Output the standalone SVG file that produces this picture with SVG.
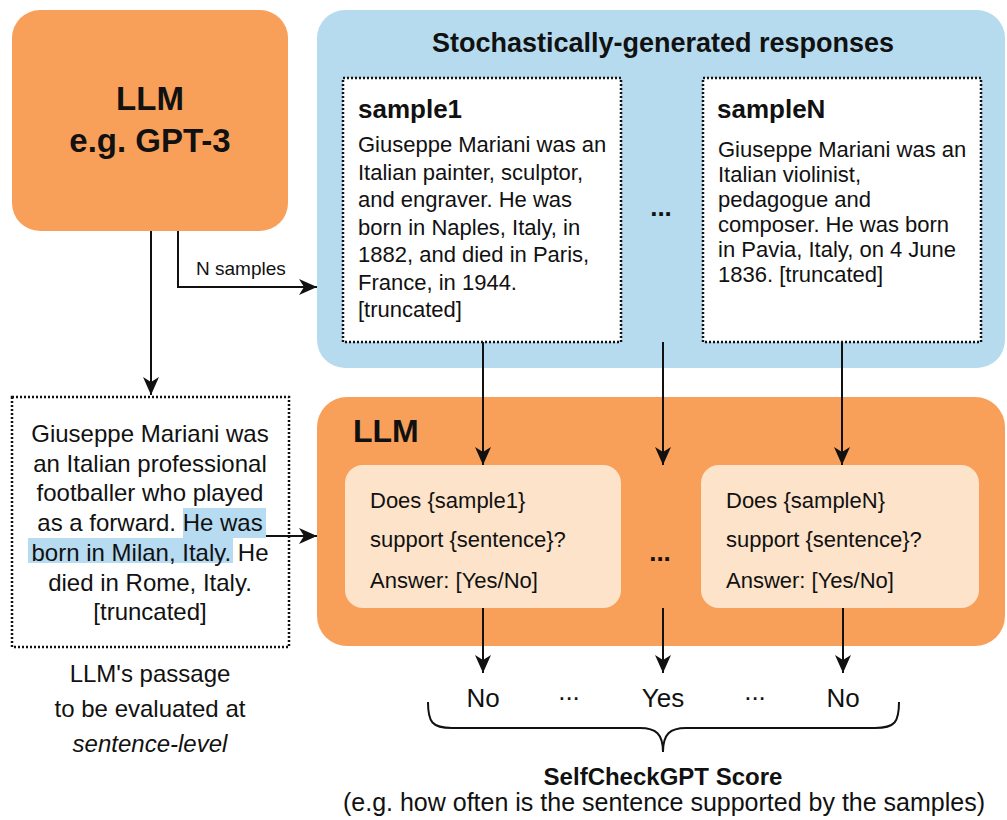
<svg xmlns="http://www.w3.org/2000/svg" width="1007" height="820" viewBox="0 0 1007 820">
<style>
text{font-family:"Liberation Sans",Arial,sans-serif;fill:#111}
.b{font-weight:bold}
.dot{fill:#fff;stroke:#111;stroke-width:2.5;stroke-dasharray:2 2}
.ln{fill:none;stroke:#111;stroke-width:2}
.s{font-size:22px}
.l{font-size:24px;text-anchor:middle}
.q{font-size:22px}
</style>
<defs>
<marker id="ah" markerUnits="userSpaceOnUse" markerWidth="20" markerHeight="18" refX="18" refY="8" orient="auto">
<path d="M0,0 L18,8 L0,16 L5,8 z" fill="#111"/>
</marker>
</defs>
<rect width="1007" height="820" fill="#fff"/>
<g id="llm-top">
<rect x="12" y="10" width="276" height="221" rx="28" fill="#F8A05A"/>
<text x="150" y="110" class="b" font-size="33" text-anchor="middle">LLM</text>
<text x="150" y="152" class="b" font-size="33" text-anchor="middle">e.g. GPT-3</text>
</g>
<g id="responses">
<rect x="317" y="10" width="688" height="358" rx="28" fill="#B7DBEE"/>
<text x="663" y="52" class="b" font-size="27" text-anchor="middle">Stochastically-generated responses</text>
<text x="661" y="216" class="b" font-size="26" text-anchor="middle">...</text>
</g>
<g id="sample1">
<rect x="343" y="78" width="278" height="264" class="dot"/>
<text x="358" y="118" class="b" font-size="26">sample1</text>
<text class="s"><tspan x="358" y="152">Giuseppe Mariani was an</tspan><tspan x="358" y="179.5">Italian painter, sculptor,</tspan><tspan x="358" y="207">and engraver. He was</tspan><tspan x="358" y="234.5">born in Naples, Italy, in</tspan><tspan x="358" y="262">1882, and died in Paris,</tspan><tspan x="358" y="289.5">France, in 1944.</tspan><tspan x="358" y="317">[truncated]</tspan></text>
</g>
<g id="sampleN">
<rect x="703" y="78" width="278" height="264" class="dot"/>
<text x="717" y="118" class="b" font-size="26">sampleN</text>
<text class="s"><tspan x="718" y="157">Giuseppe Mariani was an</tspan><tspan x="718" y="182">Italian violinist,</tspan><tspan x="718" y="207">pedagogue and</tspan><tspan x="718" y="232">composer. He was born</tspan><tspan x="718" y="257">in Pavia, Italy, on 4 June</tspan><tspan x="718" y="282">1836. [truncated]</tspan></text>
</g>
<g id="passage">
<rect x="12" y="397" width="277" height="250" class="dot"/>
<rect x="183" y="508" width="83" height="30" fill="#B7DBF1"/>
<rect x="28" y="538" width="205" height="25" fill="#B7DBF1"/>
<text class="l"><tspan x="150" y="442">Giuseppe Mariani was</tspan><tspan x="150" y="471.7">an Italian professional</tspan><tspan x="150" y="501.4">footballer who played</tspan><tspan x="150" y="531">as a forward. He was</tspan><tspan x="150" y="561">born in Milan, Italy. He</tspan><tspan x="150" y="590.5">died in Rome, Italy.</tspan><tspan x="150" y="620">[truncated]</tspan></text>
</g>
<g id="caption">
<text class="l"><tspan x="150" y="682">LLM's passage</tspan><tspan x="150" y="717">to be evaluated at</tspan><tspan x="150" y="752" font-style="italic">sentence-level</tspan></text>
</g>
<g id="llm-check">
<rect x="317" y="397" width="688" height="249" rx="30" fill="#F8A05A"/>
<text x="353" y="442" class="b" font-size="32">LLM</text>
<text x="660" y="561" class="b" font-size="26" text-anchor="middle">...</text>
</g>
<g id="q1">
<rect x="345" y="465" width="276" height="143" rx="18" fill="#FDE3C9"/>
<text class="q"><tspan x="370" y="508">Does {sample1}</tspan><tspan x="370" y="547">support {sentence}?</tspan><tspan x="370" y="588">Answer: [Yes/No]</tspan></text>
</g>
<g id="qN">
<rect x="701" y="465" width="278" height="143" rx="18" fill="#FDE3C9"/>
<text class="q"><tspan x="726" y="508">Does {sampleN}</tspan><tspan x="726" y="547">support {sentence}?</tspan><tspan x="726" y="588">Answer: [Yes/No]</tspan></text>
</g>
<g id="answers">
<text x="483" y="707" font-size="26" text-anchor="middle">No</text>
<text x="569" y="700" font-size="26" text-anchor="middle">...</text>
<text x="663" y="707" font-size="26" text-anchor="middle">Yes</text>
<text x="755" y="700" font-size="26" text-anchor="middle">...</text>
<text x="843" y="707" font-size="26" text-anchor="middle">No</text>
</g>
<g id="score">
<text x="663" y="785" class="b" font-size="24" text-anchor="middle">SelfCheckGPT Score</text>
<text x="664" y="811" font-size="25" text-anchor="middle">(e.g. how often is the sentence supported by the samples)</text>
</g>
<g id="connectors">
<path class="ln" d="M151,231 V395" marker-end="url(#ah)"/>
<path class="ln" d="M178,231 V287 H317" marker-end="url(#ah)"/>
<text x="196" y="275" font-size="19">N samples</text>
<path class="ln" d="M266,536 H317" marker-end="url(#ah)"/>
<path class="ln" d="M483,342 V465" marker-end="url(#ah)"/>
<path class="ln" d="M663,342 V465" marker-end="url(#ah)"/>
<path class="ln" d="M842,342 V465" marker-end="url(#ah)"/>
<path class="ln" d="M483,608 V673" marker-end="url(#ah)"/>
<path class="ln" d="M663,608 V673" marker-end="url(#ah)"/>
<path class="ln" d="M843,608 V673" marker-end="url(#ah)"/>
<path class="ln" d="M428,702 C428,722 432,728 452,728 L640,728 C656,728 663,734 663,752 C663,734 670,728 686,728 L875,728 C895,728 899,722 899,702"/>
</g>
</svg>
